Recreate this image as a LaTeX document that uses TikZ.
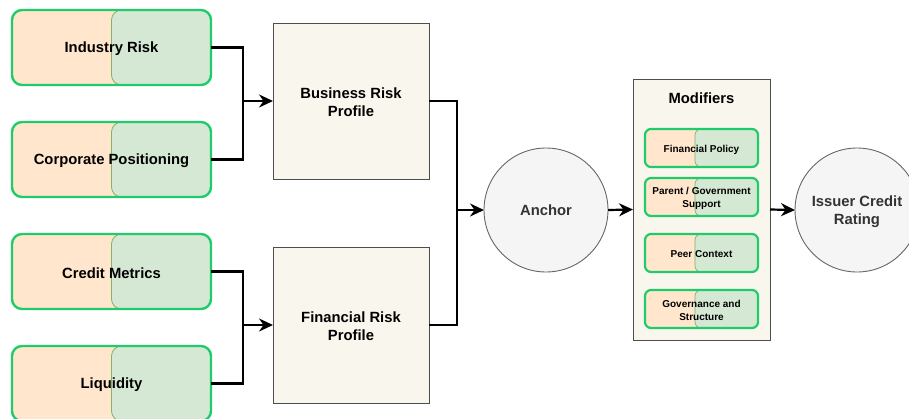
\documentclass[tikz,border=0pt]{standalone}
\usepackage{fontspec}
\setmainfont{Liberation Sans}
\usetikzlibrary{arrows.meta}

\definecolor{peach}{HTML}{FFE6CC}
\definecolor{sage}{HTML}{D5E8D4}
\definecolor{sageline}{HTML}{82B366}
\definecolor{brightgreen}{HTML}{1FCB6A}
\definecolor{paper}{HTML}{F9F7ED}
\definecolor{paperline}{HTML}{4D4D4D}
\definecolor{disc}{HTML}{F5F5F5}
\definecolor{discline}{HTML}{666666}
\definecolor{inkgray}{HTML}{333333}

\tikzset{
  bigtext/.style={font=\fontsize{14.8}{18}\selectfont\bfseries},
  smalltext/.style={font=\fontsize{10}{12.6}\selectfont\bfseries},
  % box captions sit slightly below the geometric centre
  bigcap/.style={label={[bigtext, align=center, inner sep=0pt, yshift=-1.5pt]center:{#1}}},
  smallcap/.style={label={[smalltext, align=center, inner sep=0pt, yshift=-1.5pt]center:{#1}}},
  graycap/.style={label={[bigtext, text=inkgray, align=center, inner sep=0pt, yshift=-1.5pt]center:{#1}}},
  splitbase/.style={draw=brightgreen, line width=2.4pt, fill=peach,
    inner sep=0pt, outer sep=0pt},
  factorbox/.style={splitbase, rounded corners=10pt,
    minimum width=199pt, minimum height=75pt,
    path picture={\draw[line width=0.8pt, draw=sageline, fill=sage, rounded corners=10pt]
      (path picture bounding box.north) rectangle
      ([xshift=20pt]path picture bounding box.south east);}},
  modbox/.style={splitbase, rounded corners=6pt, line width=2.2pt,
    minimum width=113pt, minimum height=38pt,
    path picture={\draw[line width=0.7pt, draw=sageline, fill=sage, rounded corners=6pt]
      ([xshift=-6.5pt]path picture bounding box.north) rectangle
      ([xshift=20pt]path picture bounding box.south east);}},
  profile/.style={draw=paperline, line width=0.9pt, fill=paper,
    inner sep=0pt, outer sep=0pt, minimum width=156pt, minimum height=156pt},
  roundnode/.style={circle, draw=discline, line width=0.9pt, fill=disc,
    text=inkgray, bigtext, align=center, inner sep=0pt, outer sep=0pt,
    minimum size=124pt},
  link/.style={line width=2.2pt, black},
  flow/.style={link, -{Stealth[length=14pt, width=13pt]}},
}

\begin{document}
\begin{tikzpicture}[x=1pt, y=-1pt]
\useasboundingbox (0,0) rectangle (909,418);
\fill[white] (0,0) rectangle (909,418);

% input factors
\node[factorbox, bigcap={Industry Risk}]         (ir)  at (111.5,47.5)  {};
\node[factorbox, bigcap={Corporate Positioning}] (cp)  at (111.5,159.5) {};
\node[factorbox, bigcap={Credit Metrics}]        (cm)  at (111.5,271.5) {};
\node[factorbox, bigcap={Liquidity}]             (liq) at (111.5,383.5) {};

% risk profiles
\node[profile, bigcap={Business Risk\\Profile}]  (brp) at (351,101) {};
\node[profile, bigcap={Financial Risk\\Profile}] (frp) at (351,325) {};

% anchor
\node[roundnode] (anc) at (546,210) {Anchor};

% modifiers panel
\node[draw=paperline, line width=0.9pt, fill=paper, inner sep=0pt, outer sep=0pt,
      minimum width=137pt, minimum height=261pt] (mods) at (701.5,209.5) {};
\node[bigtext] (modtitle) at (701.5,98) {Modifiers};
\node[modbox, smallcap={Financial Policy}]              (fp) at (701.5,148) {};
\node[modbox, smallcap={Parent / Government\\Support}]  (pg) at (701.5,197) {};
\node[modbox, smallcap={Peer Context}]                  (pc) at (701.5,253) {};
\node[modbox, smallcap={Governance and\\Structure}]     (gs) at (701.5,309) {};

% final rating
\node[roundnode, graycap={Issuer Credit\\Rating}] (icr) at (857,210) {};

% connectors
\coordinate (j1) at (243,101);
\coordinate (j2) at (243,325);
\coordinate (j3) at (457,210);

\draw[link] (ir.east) -| (j1);
\draw[link] (cp.east) -| (j1);
\draw[flow] (j1) -- (brp.west);

\draw[link] (cm.east) -| (j2);
\draw[link] (liq.east) -| (j2);
\draw[flow] (j2) -- (frp.west);

\draw[link] (brp.east) -| (j3);
\draw[link] (frp.east) -| (j3);
\draw[flow] (j3) -- (anc.west);

\draw[flow] (anc.east) -- (mods.west);
\draw[flow] (mods.east) -- (icr.west);
\end{tikzpicture}
\end{document}
